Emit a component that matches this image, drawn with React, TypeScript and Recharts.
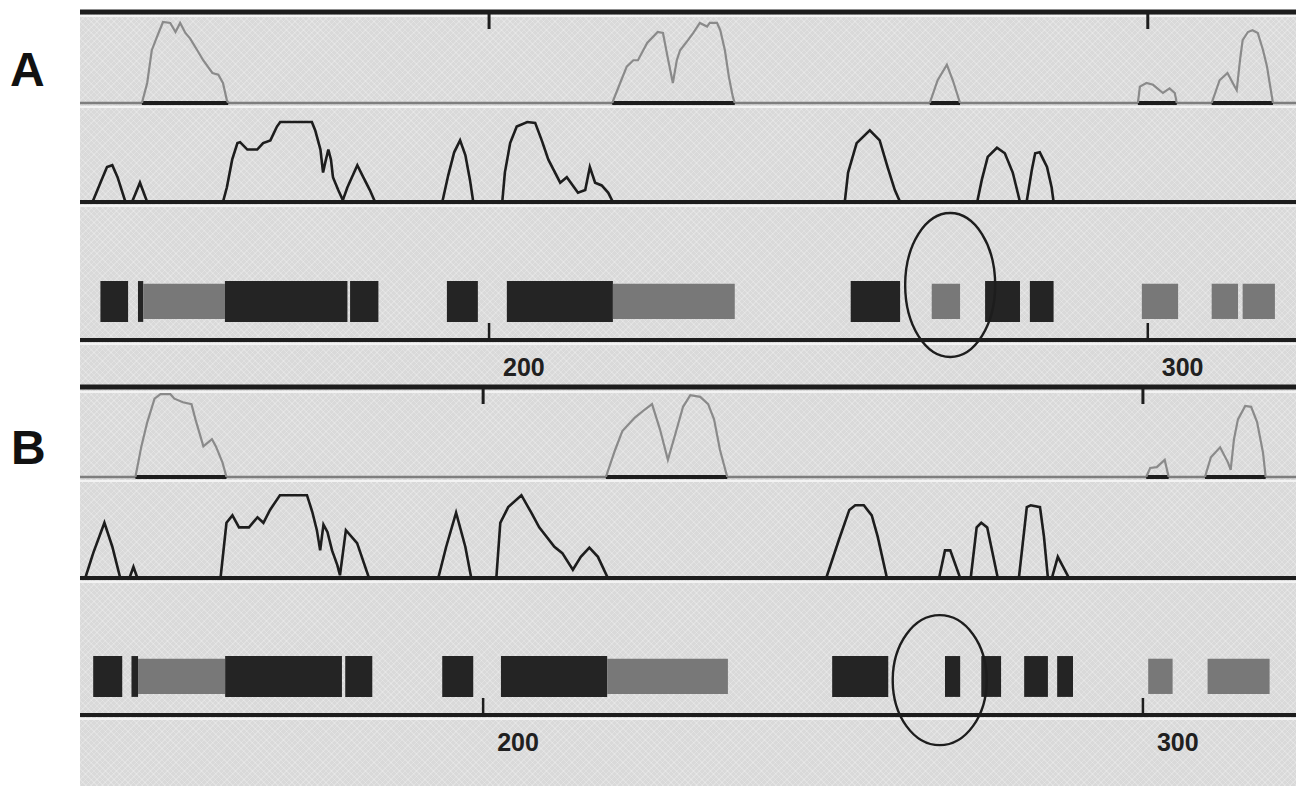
import React from 'react';
import {
  ComposedChart,
  Line,
  XAxis,
  YAxis,
  ReferenceLine,
  ReferenceArea,
  ReferenceDot,
} from 'recharts';

// ---------------- data (residue positions, normalised profile scores) ----------------
type Pt = [number, number];
type Domain = { start: number; end: number; kind: 'strong' | 'weak' };

const RULER_TICKS = [200, 300];
const A_RANGE: [number, number] = [137.9, 322.5];
const B_RANGE: [number, number] = [138.9, 323.2];

// upper (grey) profile, panel A
const A_TOP_PEAKS: Pt[][] = [
  [[147.3, 0], [148.1, 0.22], [148.8, 0.58], [149.6, 0.73], [150.5, 0.89], [151.6, 0.88], [152.4, 0.78], [153.1, 0.88], [153.9, 0.77], [154.6, 0.71], [155.7, 0.58], [156.6, 0.47], [158.0, 0.33], [158.9, 0.31], [159.6, 0.22], [160.2, 0.03], [160.4, 0]],
  [[218.7, 0], [219.9, 0.22], [220.9, 0.4], [221.9, 0.47], [222.6, 0.47], [224.0, 0.66], [225.6, 0.78], [226.4, 0.77], [227.2, 0.47], [227.9, 0.22], [228.5, 0.47], [229.0, 0.58], [230.2, 0.69], [231.0, 0.77], [232.0, 0.88], [233.1, 0.84], [233.5, 0.88], [234.6, 0.88], [235.1, 0.8], [235.8, 0.58], [236.4, 0.29], [237.0, 0.07], [237.3, 0]],
  [[266.9, 0], [268.1, 0.25], [269.5, 0.42], [270.4, 0.25], [271.5, 0]],
  [[298.5, 0], [298.8, 0.18], [299.8, 0.22], [300.8, 0.2], [302.3, 0.11], [303.3, 0.16], [304.1, 0.11], [304.4, 0]],
  [[309.7, 0], [310.9, 0.25], [312.1, 0.33], [312.9, 0.22], [313.5, 0.14], [314.0, 0.47], [314.4, 0.69], [315.2, 0.78], [315.9, 0.8], [316.7, 0.77], [317.5, 0.58], [318.1, 0.4], [318.5, 0.22], [319.0, 0]],
];

// middle (black) profile, panel A
const A_MID_PEAKS: Pt[][] = [
  [[139.8, 0], [141.0, 0.21], [142.0, 0.38], [142.8, 0.4], [143.6, 0.27], [144.8, 0]],
  [[145.8, 0], [147.0, 0.21], [148.1, 0]],
  [[159.6, 0], [160.2, 0.16], [161.0, 0.46], [161.8, 0.64], [162.2, 0.65], [163.3, 0.57], [164.8, 0.57], [165.7, 0.64], [166.8, 0.67], [167.8, 0.82], [168.3, 0.87], [173.1, 0.87], [173.6, 0.78], [174.4, 0.57], [174.8, 0.32], [175.1, 0.42], [175.6, 0.57], [176.0, 0.46], [176.3, 0.27], [177.1, 0.13], [177.8, 0.02], [178.5, 0.16], [180.0, 0.4], [180.9, 0.27], [181.9, 0.13], [182.7, 0]],
  [[192.9, 0], [193.8, 0.29], [194.7, 0.54], [195.6, 0.67], [196.4, 0.51], [197.1, 0.24], [197.6, 0]],
  [[202.0, 0], [202.4, 0.32], [203.2, 0.64], [204.2, 0.82], [205.8, 0.87], [207.0, 0.86], [208.0, 0.67], [209.0, 0.46], [210.8, 0.21], [211.8, 0.27], [213.5, 0.1], [214.6, 0.13], [215.3, 0.38], [216.1, 0.21], [217.1, 0.18], [218.1, 0.1], [218.8, 0]],
  [[254.0, 0], [254.5, 0.32], [255.8, 0.64], [257.8, 0.78], [259.3, 0.67], [260.5, 0.38], [261.6, 0.13], [262.4, 0]],
  [[274.1, 0], [274.8, 0.24], [275.7, 0.49], [277.1, 0.59], [278.3, 0.53], [279.5, 0.32], [280.6, 0]],
  [[281.6, 0], [282.4, 0.35], [282.9, 0.53], [283.6, 0.54], [284.7, 0.38], [285.4, 0.16], [285.7, 0]],
];

const A_DOMAINS: Domain[] = [
  { start: 141.0, end: 145.2, kind: 'strong' },
  { start: 146.7, end: 147.5, kind: 'strong' },
  { start: 147.5, end: 159.9, kind: 'weak' },
  { start: 159.9, end: 178.5, kind: 'strong' },
  { start: 178.9, end: 183.2, kind: 'strong' },
  { start: 193.6, end: 198.3, kind: 'strong' },
  { start: 202.7, end: 218.8, kind: 'strong' },
  { start: 218.8, end: 237.3, kind: 'weak' },
  { start: 254.9, end: 262.4, kind: 'strong' },
  { start: 267.2, end: 271.5, kind: 'weak' },
  { start: 275.3, end: 280.6, kind: 'strong' },
  { start: 282.1, end: 285.7, kind: 'strong' },
  { start: 299.1, end: 304.6, kind: 'weak' },
  { start: 309.7, end: 313.7, kind: 'weak' },
  { start: 314.4, end: 319.3, kind: 'weak' },
];

// upper (grey) profile, panel B
const B_TOP_PEAKS: Pt[][] = [
  [[147.3, 0], [148.2, 0.34], [149.1, 0.61], [150.2, 0.87], [151.1, 0.92], [152.6, 0.92], [153.2, 0.87], [154.5, 0.83], [155.8, 0.81], [156.4, 0.64], [157.6, 0.34], [158.9, 0.42], [159.5, 0.34], [160.5, 0.16], [161.1, 0]],
  [[218.6, 0], [220.0, 0.3], [221.1, 0.51], [223.0, 0.66], [224.5, 0.75], [225.6, 0.81], [226.8, 0.53], [228.0, 0.19], [229.1, 0.47], [230.3, 0.78], [231.4, 0.91], [232.9, 0.89], [234.1, 0.81], [235.0, 0.64], [235.9, 0.3], [237.0, 0]],
  [[300.5, 0], [301.1, 0.1], [302.1, 0.11], [303.3, 0.19], [303.9, 0]],
  [[309.4, 0], [310.3, 0.22], [311.7, 0.33], [312.9, 0.16], [313.3, 0.08], [313.8, 0.42], [314.4, 0.64], [315.5, 0.79], [316.4, 0.78], [317.3, 0.61], [318.2, 0.27], [318.6, 0]],
];

// middle (black) profile, panel B
const B_MID_PEAKS: Pt[][] = [
  [[139.7, 0], [140.9, 0.27], [142.6, 0.6], [143.8, 0.34], [145.0, 0]],
  [[146.4, 0], [147.0, 0.12], [147.6, 0]],
  [[160.2, 0], [161.1, 0.6], [162.0, 0.68], [163.0, 0.55], [164.5, 0.55], [165.8, 0.66], [166.7, 0.6], [167.7, 0.74], [169.2, 0.9], [173.3, 0.9], [174.1, 0.72], [174.8, 0.52], [175.3, 0.3], [175.8, 0.58], [176.4, 0.5], [177.1, 0.3], [177.9, 0.14], [178.3, 0.03], [179.2, 0.52], [180.9, 0.38], [182.7, 0]],
  [[193.2, 0], [194.4, 0.34], [195.9, 0.71], [197.3, 0.34], [198.2, 0]],
  [[202.0, 0], [202.6, 0.6], [203.8, 0.77], [205.8, 0.9], [207.3, 0.71], [208.5, 0.55], [210.8, 0.34], [212.0, 0.27], [213.6, 0.09], [214.8, 0.23], [216.1, 0.33], [217.4, 0.23], [218.9, 0]],
  [[252.0, 0], [253.9, 0.41], [255.5, 0.74], [256.4, 0.79], [257.7, 0.79], [258.9, 0.68], [259.8, 0.45], [261.2, 0]],
  [[269.1, 0], [270.0, 0.3], [270.8, 0.3], [272.3, 0]],
  [[273.9, 0], [274.8, 0.55], [275.5, 0.6], [276.4, 0.55], [278.0, 0]],
  [[281.2, 0], [282.4, 0.77], [283.0, 0.79], [284.4, 0.77], [285.0, 0.45], [285.6, 0]],
  [[286.2, 0], [287.1, 0.23], [288.8, 0]],
];

const B_DOMAINS: Domain[] = [
  { start: 140.9, end: 145.3, kind: 'strong' },
  { start: 146.7, end: 147.7, kind: 'strong' },
  { start: 147.7, end: 160.9, kind: 'weak' },
  { start: 160.9, end: 178.6, kind: 'strong' },
  { start: 179.1, end: 183.2, kind: 'strong' },
  { start: 193.8, end: 198.5, kind: 'strong' },
  { start: 202.7, end: 218.8, kind: 'strong' },
  { start: 218.8, end: 237.1, kind: 'weak' },
  { start: 252.9, end: 261.4, kind: 'strong' },
  { start: 270.0, end: 272.3, kind: 'strong' },
  { start: 275.5, end: 278.5, kind: 'strong' },
  { start: 282.0, end: 285.6, kind: 'strong' },
  { start: 287.0, end: 289.4, kind: 'strong' },
  { start: 300.8, end: 304.5, kind: 'weak' },
  { start: 309.8, end: 319.2, kind: 'weak' },
];

const A_MARK = { pos: 270.0, v: 0.41 };
const B_MARK = { pos: 269.2, v: 0.26 };

// ---------------- styles ----------------
const INK = '#1d1d1d';
const GREY_LINE = '#8a8a8a';
const STRONG_FILL = '#242424';
const WEAK_FILL = '#787878';
const BG = '#d9d9d9';
const FONT = '"Liberation Sans", Arial, sans-serif';
const LEFT = 80;
const W = 1216;
const BAND = {
  strong: [0.135, 0.44],
  weak: [0.157, 0.42],
};

const toRows = (p: Pt[]) => p.map(([pos, v]) => ({ pos, v }));

const RulerLabel = (props: any) => {
  const { x, y, payload } = props;
  return (
    <text x={x + 14} y={y} fontSize={25} fontWeight="bold" fontFamily={FONT} fill="#202020" textAnchor="start">
      {payload.value}
    </text>
  );
};

const NoLabel = () => <g />;

function TopTrack({ peaks, range, top, plotH }: { peaks: Pt[][]; range: [number, number]; top: number; plotH: number }) {
  return (
    <div style={{ position: 'absolute', left: LEFT, top }}>
      <ComposedChart width={W} height={10 + plotH + 4} margin={{ top: 0, right: 0, bottom: 4, left: 0 }}>
        <XAxis
          type="number"
          dataKey="pos"
          domain={range}
          allowDataOverflow
          orientation="top"
          height={10}
          ticks={RULER_TICKS}
          interval={0}
          tick={<NoLabel />}
          tickSize={-17}
          axisLine={{ stroke: INK, strokeWidth: 5 }}
          tickLine={{ stroke: INK, strokeWidth: 3 }}
        />
        <YAxis type="number" domain={[0, 1]} hide allowDataOverflow />
        <ReferenceLine y={0} stroke="#7e7e7e" strokeWidth={2.5} />
        {peaks.map((p, i) => (
          <ReferenceLine
            key={'u' + i}
            segment={[{ x: p[0][0], y: 0 }, { x: p[p.length - 1][0], y: 0 }]}
            stroke={INK}
            strokeWidth={4}
          />
        ))}
        {peaks.map((p, i) => (
          <Line
            key={'p' + i}
            data={toRows(p)}
            dataKey="v"
            type="linear"
            stroke={GREY_LINE}
            strokeWidth={2.2}
            dot={false}
            activeDot={false}
            isAnimationActive={false}
          />
        ))}
      </ComposedChart>
    </div>
  );
}

function MidTrack({ peaks, range, top, plotH }: { peaks: Pt[][]; range: [number, number]; top: number; plotH: number }) {
  return (
    <div style={{ position: 'absolute', left: LEFT, top }}>
      <ComposedChart width={W} height={2 + plotH + 4} margin={{ top: 2, right: 0, bottom: 4, left: 0 }}>
        <XAxis type="number" dataKey="pos" domain={range} allowDataOverflow hide />
        <YAxis type="number" domain={[0, 1]} hide allowDataOverflow />
        <ReferenceLine y={0} stroke={INK} strokeWidth={4} />
        {peaks.map((p, i) => (
          <Line
            key={'p' + i}
            data={toRows(p)}
            dataKey="v"
            type="linear"
            stroke={INK}
            strokeWidth={2.6}
            dot={false}
            activeDot={false}
            isAnimationActive={false}
          />
        ))}
      </ComposedChart>
    </div>
  );
}

function DomainTrack({ domains, range, top, mark, ry, rx }: { domains: Domain[]; range: [number, number]; top: number; mark: { pos: number; v: number }; rx: number; ry: number }) {
  return (
    <div style={{ position: 'absolute', left: LEFT, top }}>
      <ComposedChart width={W} height={134 + 46} margin={{ top: 0, right: 0, bottom: 0, left: 0 }}>
        <XAxis
          type="number"
          dataKey="pos"
          domain={range}
          allowDataOverflow
          height={46}
          ticks={RULER_TICKS}
          interval={0}
          tickSize={-17}
          tickMargin={53}
          axisLine={{ stroke: INK, strokeWidth: 4 }}
          tickLine={{ stroke: INK, strokeWidth: 2.5 }}
          tick={<RulerLabel />}
        />
        <YAxis type="number" domain={[0, 1]} hide allowDataOverflow />
        {domains.map((d, i) => (
          <ReferenceArea
            key={i}
            x1={d.start}
            x2={d.end}
            y1={BAND[d.kind][0]}
            y2={BAND[d.kind][1]}
            fill={d.kind === 'strong' ? STRONG_FILL : WEAK_FILL}
            fillOpacity={1}
            stroke="none"
          />
        ))}
        <ReferenceDot
          x={mark.pos}
          y={mark.v}
          r={4}
          shape={(p: any) => (
            <ellipse cx={p.cx} cy={p.cy} rx={rx} ry={ry} fill="none" stroke={INK} strokeWidth={2.4} />
          )}
        />
      </ComposedChart>
    </div>
  );
}

const Bevel = ({ y }: { y: number }) => (
  <div style={{ position: 'absolute', left: LEFT, top: y, width: W, height: 2, background: '#f3f3f3' }} />
);

export default function App() {
  return (
    <div style={{ position: 'absolute', left: 0, top: 0, width: 1296, height: 790, background: '#ffffff', overflow: 'hidden' }}>
      <div
        style={{
          position: 'absolute',
          left: LEFT,
          top: 10,
          width: W,
          height: 776,
          background: `repeating-linear-gradient(45deg, rgba(255,255,255,0.22) 0px, rgba(255,255,255,0.22) 1px, transparent 1px, transparent 4px), repeating-linear-gradient(-45deg, rgba(255,255,255,0.22) 0px, rgba(255,255,255,0.22) 1px, transparent 1px, transparent 4px), ${BG}`,
        }}
      />
      {[15, 106, 205, 343, 391, 480, 581, 718].map((y) => (
        <Bevel key={y} y={y} />
      ))}
      <svg width={80} height={790} style={{ position: 'absolute', left: 0, top: 0 }}>
        <text x={10} y={86} fontSize={48} fontWeight="bold" fontFamily={FONT} fill="#111">A</text>
        <text x={11} y={464} fontSize={48} fontWeight="bold" fontFamily={FONT} fill="#111">B</text>
      </svg>

      {/* Panel A */}
      <TopTrack peaks={A_TOP_PEAKS} range={A_RANGE} top={2} plotH={91} />
      <MidTrack peaks={A_MID_PEAKS} range={A_RANGE} top={108} plotH={92} />
      <DomainTrack domains={A_DOMAINS} range={A_RANGE} top={206} mark={A_MARK} rx={45} ry={72} />

      {/* Panel B */}
      <TopTrack peaks={B_TOP_PEAKS} range={B_RANGE} top={377} plotH={90} />
      <MidTrack peaks={B_MID_PEAKS} range={B_RANGE} top={484} plotH={92} />
      <DomainTrack domains={B_DOMAINS} range={B_RANGE} top={581} mark={B_MARK} rx={47} ry={65} />
    </div>
  );
}
